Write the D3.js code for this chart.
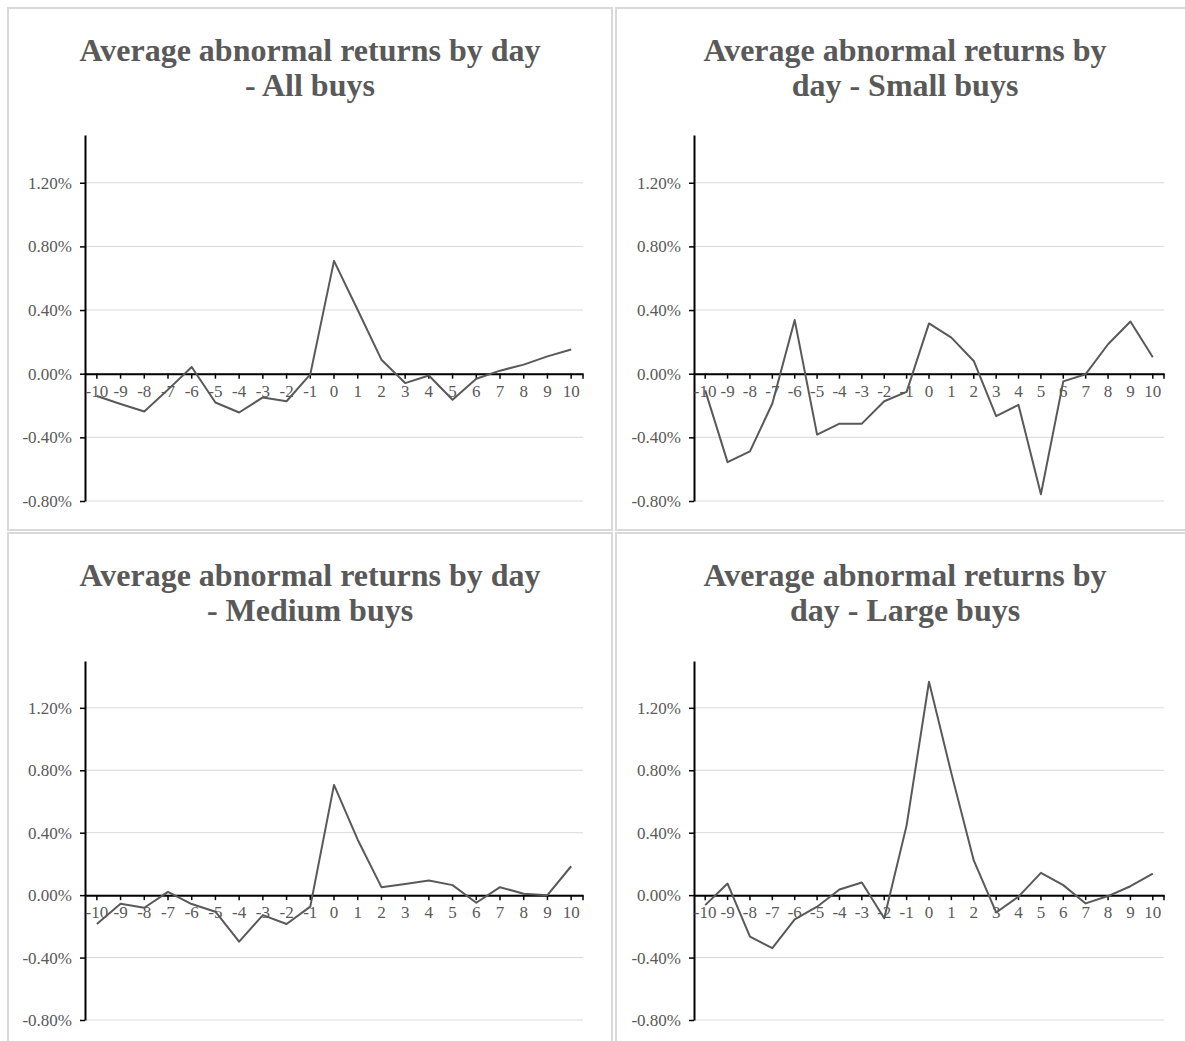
<!DOCTYPE html>
<html>
<head>
<meta charset="utf-8">
<script src="https://cdn.jsdelivr.net/npm/d3@7"></script>
<style>
  html, body { margin: 0; padding: 0; background: #ffffff; }
  svg { display: block; }
</style>
</head>
<body>
<svg id="chart" width="1185" height="1041"></svg>
<script>
// ---- data ----
const days = [-10, -9, -8, -7, -6, -5, -4, -3, -2, -1, 0, 1, 2, 3, 4, 5, 6, 7, 8, 9, 10];
const allBuys    = [-0.14, -0.19, -0.238, -0.10, 0.042, -0.181, -0.244, -0.149, -0.173, -0.004, 0.709, 0.40, 0.088, -0.059, -0.011, -0.164, -0.032, 0.019, 0.057, 0.109, 0.152];
const smallBuys  = [-0.105, -0.556, -0.488, -0.187, 0.337, -0.383, -0.314, -0.314, -0.173, -0.114, 0.316, 0.227, 0.080, -0.267, -0.196, -0.758, -0.048, -0.003, 0.185, 0.328, 0.103];
const mediumBuys = [-0.185, -0.055, -0.081, 0.021, -0.057, -0.106, -0.298, -0.128, -0.185, -0.074, 0.706, 0.355, 0.051, 0.072, 0.094, 0.064, -0.049, 0.051, 0.009, 0.000, 0.185];
const largeBuys  = [-0.064, 0.074, -0.266, -0.340, -0.155, -0.074, 0.036, 0.081, -0.148, 0.447, 1.367, 0.78, 0.222, -0.111, -0.010, 0.143, 0.064, -0.053, -0.006, 0.057, 0.138];
const yTicks = [-0.80, -0.40, 0.00, 0.40, 0.80, 1.20];
const yDomain = [-0.80, 1.50];
const titleLines = [
  ["Average abnormal returns by day", "- All buys"],
  ["Average abnormal returns by", "day - Small buys"],
  ["Average abnormal returns by day", "- Medium buys"],
  ["Average abnormal returns by", "day - Large buys"]
];
const seriesList = [allBuys, smallBuys, mediumBuys, largeBuys];

// ---- layout ----
const panels = [
  { bx: 8,   by: 8,   bw: 604, bh: 522, cx: 310, left: 85,  right: 583,  top: 135, bottom: 501 },
  { bx: 616, by: 8,   bw: 610, bh: 522, cx: 905, left: 694, right: 1164, top: 135, bottom: 501 },
  { bx: 8,   by: 533, bw: 604, bh: 530, cx: 310, left: 85,  right: 583,  top: 661, bottom: 1020 },
  { bx: 616, by: 533, bw: 610, bh: 530, cx: 905, left: 694, right: 1164, top: 661, bottom: 1020 }
];

const svg = d3.select("#chart");
const FONT = "'Liberation Serif', 'Times New Roman', serif";
const TXT = "#595959";
const fmtPct = d => d.toFixed(2) + "%";

panels.forEach((p, i) => {
  const g = svg.append("g");
  // frame
  g.append("rect")
    .attr("x", p.bx).attr("y", p.by).attr("width", p.bw).attr("height", p.bh)
    .attr("fill", "#fff").attr("stroke", "#d9d9d9").attr("stroke-width", 2);

  // title
  const t = g.append("text")
    .attr("text-anchor", "middle")
    .attr("font-family", FONT).attr("font-weight", "bold")
    .attr("font-size", 32).attr("fill", TXT);
  titleLines[i].forEach((line, k) => {
    t.append("tspan").attr("x", p.cx).attr("y", p.by + 53 + k * 35).text(line);
  });

  const y = d3.scaleLinear().domain(yDomain).range([p.bottom, p.top]);
  const x = d3.scaleBand().domain(days).range([p.left, p.right]);

  // gridlines
  g.append("g").selectAll("line").data(yTicks).join("line")
    .attr("x1", p.left).attr("x2", p.right)
    .attr("y1", d => y(d)).attr("y2", d => y(d))
    .attr("stroke", "#d9d9d9").attr("stroke-width", 1);

  // y axis
  const ya = g.append("g").attr("transform", `translate(${p.left},0)`)
    .call(d3.axisLeft(y).tickValues(yTicks).tickFormat(fmtPct).tickSize(5).tickSizeOuter(0).tickPadding(8));
  ya.select(".domain").attr("stroke", "#000").attr("stroke-width", 2);
  ya.selectAll(".tick line").attr("stroke", "#000").attr("stroke-width", 1.5);
  ya.selectAll("text").attr("font-family", FONT).attr("font-size", 17).attr("fill", TXT);

  // x axis at zero
  const y0 = y(0);
  const xa = g.append("g").attr("transform", `translate(0,${y0})`)
    .call(d3.axisBottom(x).tickFormat(d => String(d)).tickSize(5).tickSizeOuter(0));
  xa.select(".domain").attr("stroke", "#000").attr("stroke-width", 2);
  xa.selectAll(".tick line").attr("stroke", "#000").attr("stroke-width", 1.5);
  xa.selectAll("text").attr("font-family", FONT).attr("font-size", 17).attr("fill", TXT)
    .attr("dy", null).attr("y", 23);
  // end tick
  xa.append("line").attr("x1", p.right).attr("x2", p.right).attr("y1", 0).attr("y2", 5)
    .attr("stroke", "#000").attr("stroke-width", 1.5);

  // line series
  const line = d3.line()
    .x((d, j) => x(days[j]) + x.bandwidth() / 2)
    .y(d => y(d));
  g.append("path").datum(seriesList[i])
    .attr("d", line)
    .attr("fill", "none").attr("stroke", "#595959").attr("stroke-width", 2)
    .attr("stroke-linejoin", "round");
});
</script>
</body>
</html>
